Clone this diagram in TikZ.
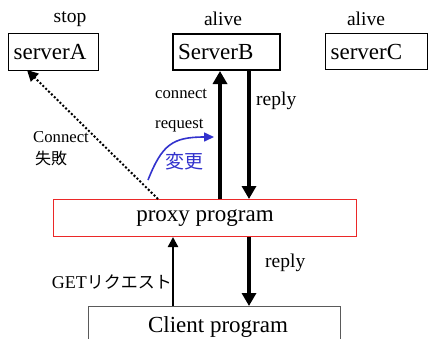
\documentclass[tikz,border=0pt]{standalone}
\usepackage{fontspec}
\setmainfont{Liberation Serif}
\newfontfamily\jp{Noto Sans CJK JP}
\usetikzlibrary{arrows.meta}
\definecolor{chblue}{RGB}{50,50,205}
\definecolor{proxyred}{RGB}{235,40,40}
\definecolor{clientgray}{RGB}{90,90,90}
\tikzset{
  big/.style={font=\fontsize{23}{26}\selectfont},
  mid/.style={font=\fontsize{19.5}{22}\selectfont},
  small/.style={font=\fontsize{16.7}{19}\selectfont},
  srvbox/.style={draw, line width=1.2pt, rectangle, big, align=left, inner xsep=5pt, inner ysep=0pt, anchor=north west},
  heavy/.style={line width=3.5pt, -{Triangle[width=14pt,length=13pt]}},
  lightarrow/.style={line width=2.3pt, -{Triangle[width=10pt,length=10pt]}},
  lbl/.style={inner sep=0pt},
}
\begin{document}
\begin{tikzpicture}[x=1pt,y=-1pt]
\clip (0,0) rectangle (428,338);
\fill[white] (0,0) rectangle (428,338);
% server boxes
\node[srvbox, minimum width=90pt, minimum height=37pt, text width=80pt] (serverA) at (8,33) {serverA};
\node[srvbox, line width=2pt, minimum width=107pt, minimum height=36pt, text width=97pt] (serverB) at (172,33) {ServerB};
\node[srvbox, minimum width=102pt, minimum height=36pt, text width=92pt] (serverC) at (325,33) {serverC};
% state labels
\node[lbl, mid] (stop) at (70,19) {stop};
\node[lbl, mid] (aliveB) at (223,19) {alive};
\node[lbl, mid] (aliveC) at (366,19) {alive};
% proxy
\node[draw=proxyred, line width=1pt, minimum width=303pt, minimum height=37pt, big, anchor=north west, inner sep=0pt] (proxy) at (53,199) {proxy program};
% client
\node[draw=clientgray, line width=1pt, minimum width=252pt, minimum height=45pt, big, anchor=north west, inner sep=0pt, text depth=0pt] (client) at (88,306) {};
\node[lbl, big, anchor=base] (clienttext) at (218,332) {Client program};
% x positions
\coordinate (xup) at (220,0);
\coordinate (xdown) at (249,0);
\coordinate (xget) at (173,0);
% arrows between proxy and ServerB
\draw[heavy] (proxy.north -| xup) -- (serverB.south -| xup);
\draw[heavy] (serverB.south -| xdown) -- (proxy.north -| xdown);
% arrows between client and proxy
\draw[lightarrow] (client.north -| xget) -- (proxy.south -| xget);
\draw[heavy] (proxy.south -| xdown) -- (client.north -| xdown);
% dotted failed connect
\coordinate (dotstart) at (158,199);
\coordinate (dotend) at (27,70);
\draw[line width=2pt, dash pattern=on 2pt off 2pt, -{Triangle[width=11pt,length=11pt]}] (dotstart) -- (dotend);
% labels
\node[lbl, small, anchor=base west] (connect) at (155,98) {connect};
\node[lbl, small, anchor=base west] (request) at (155,128) {request};
\node[lbl, mid, anchor=west] (replyup) at (256,101) {reply};
\node[lbl, mid, anchor=west] (replydown) at (265,263) {reply};
\node[lbl, small, anchor=base west] (Connect) at (33,142) {Connect};
\node[lbl, font=\jp\fontsize{16}{18}\selectfont, anchor=west] (fail) at (35,158) {失敗};
\node[lbl, font=\jp\fontsize{19}{21}\selectfont, text=chblue, anchor=center] (change) at (184,161) {変更};
\node[lbl, font=\fontsize{18}{20}\selectfont, anchor=east] (get) at (172,282) {GET{\jp\fontsize{17}{19}\selectfont リクエスト}};
% blue curved arrow
\coordinate (bstart) at (148,180);
\coordinate (bend) at (214,137);
\draw[chblue, line width=1.6pt, -{Triangle[width=9pt,length=10pt]}] (bstart) .. controls (162,145) and (172,137) .. (bend);
\end{tikzpicture}
\end{document}
